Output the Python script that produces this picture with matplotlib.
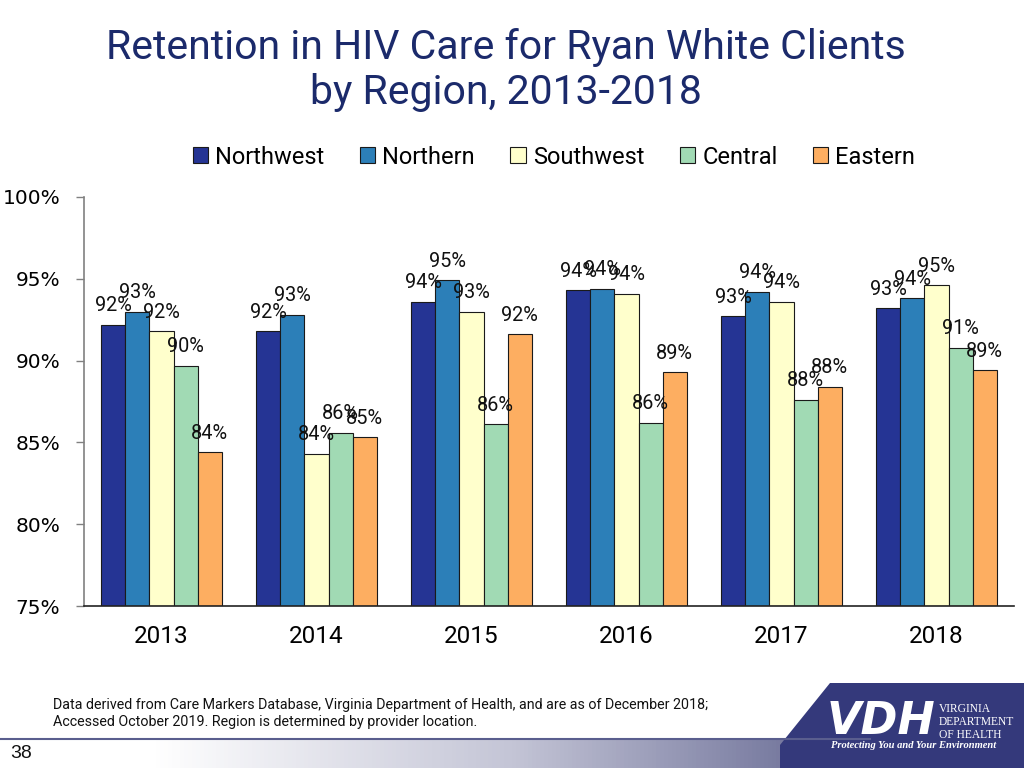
import matplotlib
matplotlib.use("Agg")
import matplotlib.pyplot as plt
import numpy as np
from matplotlib import font_manager
from matplotlib.patches import Polygon
from matplotlib.colors import LinearSegmentedColormap

names = {f.name for f in font_manager.fontManager.ttflist}
NARROW = "Liberation Sans Narrow" if "Liberation Sans Narrow" in names else "Roboto"
SERIF = "Liberation Serif" if "Liberation Serif" in names else "DejaVu Serif"

years = ["2013", "2014", "2015", "2016", "2017", "2018"]
regions = ["Northwest", "Northern", "Southwest", "Central", "Eastern"]
northwest = [92.2, 91.8, 93.6, 94.3, 92.7, 93.2]
northern = [93.0, 92.8, 94.9, 94.4, 94.2, 93.8]
southwest = [91.8, 84.3, 93.0, 94.1, 93.6, 94.6]
central = [89.7, 85.6, 86.1, 86.2, 87.6, 90.8]
eastern = [84.4, 85.3, 91.6, 89.3, 88.4, 89.4]
series = [northwest, northern, southwest, central, eastern]
colors = ["#253494", "#2C7FB8", "#FFFFCC", "#A1DAB4", "#FDAE61"]

W, H = 1024, 768
fig = plt.figure(figsize=(W / 100, H / 100), dpi=100)

# bottom gradient band
axg = fig.add_axes([0, 0, 1, 28 / H])
cmap = LinearSegmentedColormap.from_list(
    "band", [(0, "#FFFFFF"), (0.15, "#FFFFFF"), (0.5, "#C4C5D6"), (0.8, "#6E7199"), (1.0, "#2F3470")])
grad = np.linspace(0, 1, 512).reshape(1, -1)
axg.imshow(grad, aspect="auto", cmap=cmap, extent=[0, 1, 0, 1])
axg.set_axis_off()
fig.add_artist(plt.Line2D([0, 0.85], [1 - 739 / H, 1 - 739 / H], color="#5A5E8E", lw=1.5))
fig.text(10 / W, 1 - 754 / H, "38", fontsize=14, family="Liberation Sans", va="center", ha="left", color="#111111")

# logo block
poly = Polygon([(830 / W, 1 - 683 / H), (1, 1 - 683 / H), (1, 0), (780 / W, 0), (780 / W, 1 - 745 / H)],
               closed=True, transform=fig.transFigure, facecolor="#34397B", edgecolor="none")
fig.add_artist(poly)
fig.text(881 / W, 1 - 722 / H, "VDH", fontsize=32, fontweight="bold", style="italic", color="white",
         family="DejaVu Sans", ha="center", va="center")
for i, t in enumerate(["VIRGINIA", "DEPARTMENT", "OF HEALTH"]):
    fig.text(939 / W, 1 - (709 + 13 * i) / H, t, fontsize=8.3, color="white", family=SERIF, ha="left", va="center")
fig.text(914 / W, 1 - 746 / H, "Protecting You and Your Environment", fontsize=7.6, style="italic",
         fontweight="bold", color="white", family=SERIF, ha="center", va="center")

# footnote
fig.text(53 / W, 1 - 705 / H, "Data derived from Care Markers Database, Virginia Department of Health, and are as of December 2018;",
         fontsize=10.3, family=NARROW, ha="left", va="center", color="#111111")
fig.text(53 / W, 1 - 722 / H, "Accessed October 2019. Region is determined by provider location.",
         fontsize=10.3, family=NARROW, ha="left", va="center", color="#111111")

# title
tcol = "#1B2A6B"
fig.text(506 / W, 1 - 59 / H, "Retention in HIV Care for Ryan White Clients", fontsize=29.5, family=NARROW,
         color=tcol, ha="center", va="baseline")
fig.text(506 / W, 1 - 104 / H, "by Region, 2013-2018", fontsize=29.5, family=NARROW,
         color=tcol, ha="center", va="baseline")

# main axes
ax = fig.add_axes([84 / W, 1 - 606 / H, (1014 - 84) / W, (606 - 197) / H])
x = np.arange(len(years))
bw = 0.155
for i, (vals, c, name) in enumerate(zip(series, colors, regions)):
    pos = x + (i - 2) * bw
    ax.bar(pos, np.array(vals) - 75, bottom=75, width=bw, color=c, edgecolor="#1a1a1a",
           linewidth=0.8, label=name)
    for p, v in zip(pos, vals):
        ax.annotate(f"{round(v)}%", (p, v), xytext=(0, 19), textcoords="offset pixels",
                    ha="center", va="center", fontsize=14.3, family=NARROW, color="#111111")

ax.set_xlim(-0.5, 5.5)
ax.set_ylim(75, 100)
ax.set_yticks([75, 80, 85, 90, 95, 100])
ax.set_yticklabels([f"{v}%" for v in [75, 80, 85, 90, 95, 100]], fontsize=14.5, family="DejaVu Sans")
ax.set_xticks(x)
ax.set_xticklabels(years, fontsize=17.5, family=NARROW)
ax.tick_params(axis="x", length=0, pad=14)
ax.tick_params(axis="y", length=6, pad=11, color="#808080", width=1)
for s in ["top", "right"]:
    ax.spines[s].set_visible(False)
ax.spines["left"].set_color("#808080")
ax.spines["left"].set_linewidth(1.2)
ax.spines["bottom"].set_color("#222222")
ax.spines["bottom"].set_linewidth(1.2)

handles, labels = ax.get_legend_handles_labels()
fig.legend(handles, labels, loc="center", bbox_to_anchor=(554 / W, 1 - 157 / H), ncol=5, frameon=False,
           prop={"family": NARROW, "size": 17}, handlelength=0.65, handleheight=0.65, handletextpad=0.3,
           columnspacing=1.5)

fig.savefig("out.png", dpi=100)
